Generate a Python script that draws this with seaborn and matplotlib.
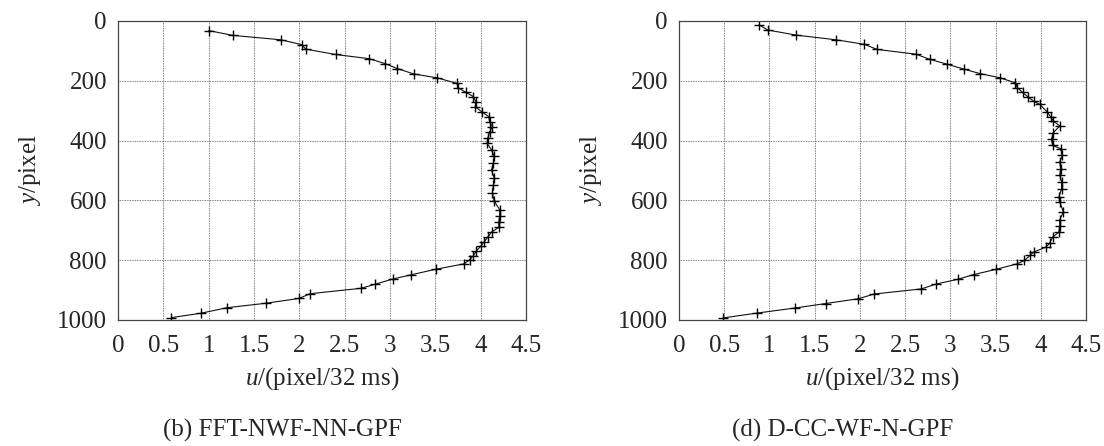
import numpy as np
import pandas as pd
import seaborn as sns
import matplotlib.pyplot as plt

# (b) FFT-NWF-NN-GPF
fft_u = [1.00, 1.265, 1.80, 2.025, 2.07, 2.40, 2.77, 2.95, 3.08, 3.26, 3.52,
         3.74, 3.75, 3.84, 3.92, 3.95, 3.94, 4.01, 4.09, 4.10, 4.13, 4.10,
         4.08, 4.07, 4.12, 4.15, 4.14, 4.12, 4.15, 4.14, 4.13, 4.15, 4.21,
         4.21, 4.20, 4.20, 4.12, 4.08, 4.04, 4.00, 3.95, 3.92, 3.88, 3.82,
         3.51, 3.23, 3.03, 2.84, 2.68, 2.12, 1.995, 1.63, 1.20, 0.92, 0.59]
fft_y = [32, 48, 63, 79, 94, 112, 126, 143, 159, 177, 190,
         209, 223, 239, 253, 272, 287, 303, 320, 339, 353, 370,
         390, 409, 431, 453, 475, 498, 525, 548, 575, 603, 631,
         653, 672, 690, 706, 722, 738, 753, 770, 785, 798, 812,
         830, 849, 863, 880, 894, 912, 928, 944, 959, 977, 992]

# (d) D-CC-WF-N-GPF
dcc_u = [0.885, 0.98, 1.29, 1.74, 2.05, 2.19, 2.62, 2.77, 2.96, 3.15, 3.33,
         3.55, 3.72, 3.74, 3.80, 3.86, 3.92, 3.99, 4.07, 4.11, 4.14, 4.21,
         4.14, 4.12, 4.13, 4.22, 4.24, 4.21, 4.22, 4.21, 4.23, 4.23, 4.20,
         4.21, 4.25, 4.21, 4.21, 4.20, 4.13, 4.10, 4.06, 3.92, 3.88, 3.82,
         3.74, 3.50, 3.26, 3.08, 2.84, 2.68, 2.16, 1.98, 1.62, 1.28, 0.86, 0.49]
dcc_y = [13, 30, 47, 63, 78, 95, 111, 128, 144, 161, 176,
         190, 207, 223, 239, 254, 268, 279, 304, 321, 335, 351,
         373, 393, 416, 427, 449, 471, 494, 516, 538, 561, 589,
         605, 639, 664, 684, 706, 723, 742, 756, 773, 784, 801,
         812, 831, 848, 864, 880, 896, 913, 929, 945, 960, 977, 993]

captions = ["(b) FFT-NWF-NN-GPF", "(d) D-CC-WF-N-GPF"]
x_ticks = [0, 0.5, 1, 1.5, 2, 2.5, 3, 3.5, 4, 4.5]
y_ticks = [0, 200, 400, 600, 800, 1000]

sns.set_style("white")
plt.rcParams['font.family'] = ['Liberation Serif', 'DejaVu Serif']
plt.rcParams['mathtext.fontset'] = 'custom'
plt.rcParams['mathtext.it'] = 'Liberation Serif:italic'
plt.rcParams['mathtext.rm'] = 'Liberation Serif'

fig = plt.figure(figsize=(11.04, 4.46), dpi=100)
W, H = 1104, 446
boxes = [(118, 21, 408, 299), (679, 21, 407, 299)]
series = [(fft_u, fft_y), (dcc_u, dcc_y)]
fs = 18

for (l, t, w, h), (u, y), cap in zip(boxes, series, captions):
    ax = fig.add_axes([l / W, 1 - (t + h) / H, w / W, h / H])
    df = pd.DataFrame({'u': u, 'y': y})
    sns.lineplot(data=df, x='u', y='y', sort=False, estimator=None, ax=ax,
                 color='#111111', lw=0.8, marker='+', markersize=6.5,
                 markeredgewidth=1.0, markeredgecolor='black')
    ax.set_xlim(0, 4.5)
    ax.set_ylim(1000, 0)
    ax.set_xticks(x_ticks)
    ax.set_xticklabels([f"{v:g}" for v in x_ticks])
    ax.set_yticks(y_ticks)
    ax.grid(True, color='#555555', linestyle=(0, (1, 1)), lw=0.6)
    ax.tick_params(direction='in', length=0, labelsize=fs)
    ax.tick_params(axis='x', pad=11)
    ax.tick_params(axis='y', pad=8)
    for s in ax.spines.values():
        s.set_color('#444444')
        s.set_linewidth(0.9)
    ax.set_xlabel(r'$u$/(pixel/32 ms)', fontsize=fs, labelpad=6)
    ax.set_ylabel(r'$y$/pixel', fontsize=fs, labelpad=10)
    fig.text((l + w / 2 - 40) / W, 1 - 430 / H, cap, fontsize=fs,
             ha='center', va='center')

fig.savefig('out.png', dpi=100)
